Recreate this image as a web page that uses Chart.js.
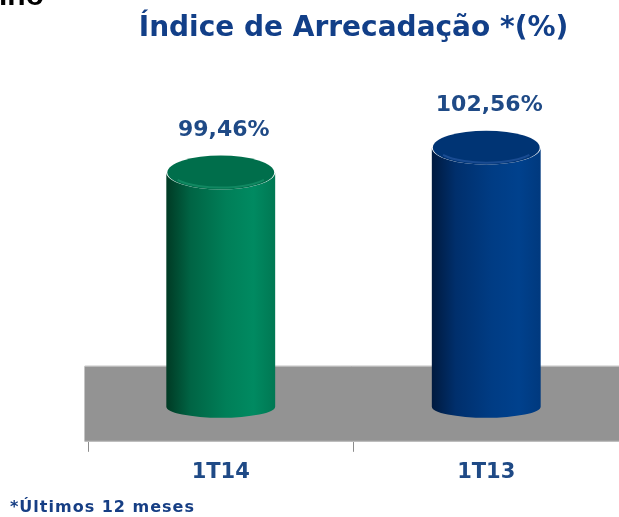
<!DOCTYPE html>
<html lang="pt-BR">
<head>
<meta charset="utf-8">
<script src="https://cdn.jsdelivr.net/npm/chart.js@4.4.1/dist/chart.umd.min.js"></script>
<style>
  html, body { margin: 0; padding: 0; background: #fff; }
  #wrap { position: relative; width: 619px; height: 517px; overflow: hidden; }
  #chart { position: absolute; left: 0; top: 0; }
  .cut { position: absolute; left: -1px; top: -22px; font: bold 30px "Liberation Sans", Arial, sans-serif; color: #000; }
  .note { position: absolute; left: 10px; top: 497px; font: bold 16px "DejaVu Sans", Verdana, sans-serif; letter-spacing: 1px; color: #163e84; }
</style>
</head>
<body>
<div id="wrap">
  <canvas id="chart" width="619" height="517"></canvas>
  <div class="cut">ino</div>
  <div class="note">*Últimos 12 meses</div>
</div>
<script>
// chart data
const categories = ["1T14", "1T13"];
const indexValues = [99.46, 102.56];
const titleText = "Índice de Arrecadação *(%)";

// cylinder shades per bar (left edge -> right edge)
const cylinderShades = [
  { stops: ["#003a24", "#006444", "#007f58", "#008a61", "#007853"], top: "#006e4b", rim: "#1b9a70" },
  { stops: ["#001a3f", "#002f6c", "#003c84", "#00418d", "#00397e"], top: "#003474", rim: "#2a5ca6" }
];

const fmt = (v) => v.toFixed(2).replace(".", ",") + "%";

// grey 3D floor behind the bars
const floorPlugin = {
  id: "floor",
  beforeDatasetsDraw(chart) {
    const { ctx, chartArea } = chart;
    const depth = 76;
    ctx.save();
    ctx.fillStyle = "#939393";
    ctx.fillRect(chartArea.left - 3, chartArea.bottom - depth, chartArea.right - chartArea.left + 3, depth);
    ctx.strokeStyle = "#c4c4c4";
    ctx.lineWidth = 1;
    ctx.beginPath();
    ctx.moveTo(chartArea.right, chartArea.bottom - depth + 0.5);
    ctx.lineTo(chartArea.left - 3.5, chartArea.bottom - depth + 0.5);
    ctx.lineTo(chartArea.left - 3.5, chartArea.bottom - 0.5);
    ctx.lineTo(chartArea.right, chartArea.bottom - 0.5);
    ctx.stroke();
    ctx.restore();
  }
};

// draws each bar as a cylinder, using the bar element geometry
const cylinderPlugin = {
  id: "cylinder",
  afterDatasetsDraw(chart) {
    const { ctx, chartArea } = chart;
    const meta = chart.getDatasetMeta(0);
    meta.data.forEach((bar, i) => {
      const shade = cylinderShades[i % cylinderShades.length];
      const cx = bar.x;
      const rx = bar.width / 2;
      const top = bar.y;
      const bottom = chartArea.bottom - 35;
      const ryTop = 17;
      const ryBot = 11;

      const grad = ctx.createLinearGradient(cx - rx, 0, cx + rx, 0);
      grad.addColorStop(0, shade.stops[0]);
      grad.addColorStop(0.22, shade.stops[1]);
      grad.addColorStop(0.55, shade.stops[2]);
      grad.addColorStop(0.8, shade.stops[3]);
      grad.addColorStop(1, shade.stops[4]);

      ctx.save();
      // body
      ctx.beginPath();
      ctx.moveTo(cx - rx, top);
      ctx.lineTo(cx - rx, bottom);
      ctx.ellipse(cx, bottom, rx, ryBot, 0, Math.PI, 0, true);
      ctx.lineTo(cx + rx, top);
      ctx.ellipse(cx, top, rx, ryTop, 0, 0, Math.PI, false);
      ctx.closePath();
      ctx.fillStyle = grad;
      ctx.fill();

      // top surface
      ctx.beginPath();
      ctx.ellipse(cx, top, rx - 1, ryTop, 0, 0, Math.PI * 2);
      ctx.fillStyle = shade.top;
      ctx.fill();

      // soft rim highlight
      ctx.beginPath();
      ctx.ellipse(cx, top + 1, rx - 6, ryTop - 3, 0, 0.15 * Math.PI, 0.85 * Math.PI);
      ctx.strokeStyle = shade.rim;
      ctx.globalAlpha = 0.6;
      ctx.lineWidth = 2;
      ctx.stroke();
      ctx.restore();

      // value label
      ctx.save();
      ctx.font = "bold 22px 'DejaVu Sans', Verdana, sans-serif";
      ctx.fillStyle = "#1f4a86";
      ctx.textAlign = "center";
      ctx.textBaseline = "alphabetic";
      ctx.fillText(fmt(indexValues[i]), cx + 3, top - ryTop - 20);
      ctx.restore();
    });
  }
};

new Chart(document.getElementById("chart"), {
  type: "bar",
  data: {
    labels: categories,
    datasets: [{
      data: indexValues,
      backgroundColor: "rgba(0,0,0,0)",
      borderWidth: 0,
      barPercentage: 0.41,
      categoryPercentage: 1
    }]
  },
  options: {
    responsive: false,
    animation: false,
    layout: { padding: { left: 88, right: 0, top: 0, bottom: 24 } },
    plugins: {
      legend: { display: false },
      tooltip: { enabled: false },
      title: {
        display: true,
        text: titleText,
        fullSize: false,
        color: "#123f88",
        font: { family: "'DejaVu Sans', Verdana, sans-serif", size: 28, weight: "bold" },
        padding: { top: 12, bottom: 14 }
      }
    },
    scales: {
      x: {
        border: { display: false },
        grid: { display: true, drawOnChartArea: false, drawTicks: true, tickLength: 10, color: "#8c8c8c", offset: true },
        ticks: {
          color: "#1f4a86",
          padding: 8,
          font: { family: "'DejaVu Sans', Verdana, sans-serif", size: 21, weight: "bold" }
        }
      },
      y: {
        display: false,
        min: 66,
        max: 113.5
      }
    }
  },
  plugins: [floorPlugin, cylinderPlugin]
});
</script>
</body>
</html>
